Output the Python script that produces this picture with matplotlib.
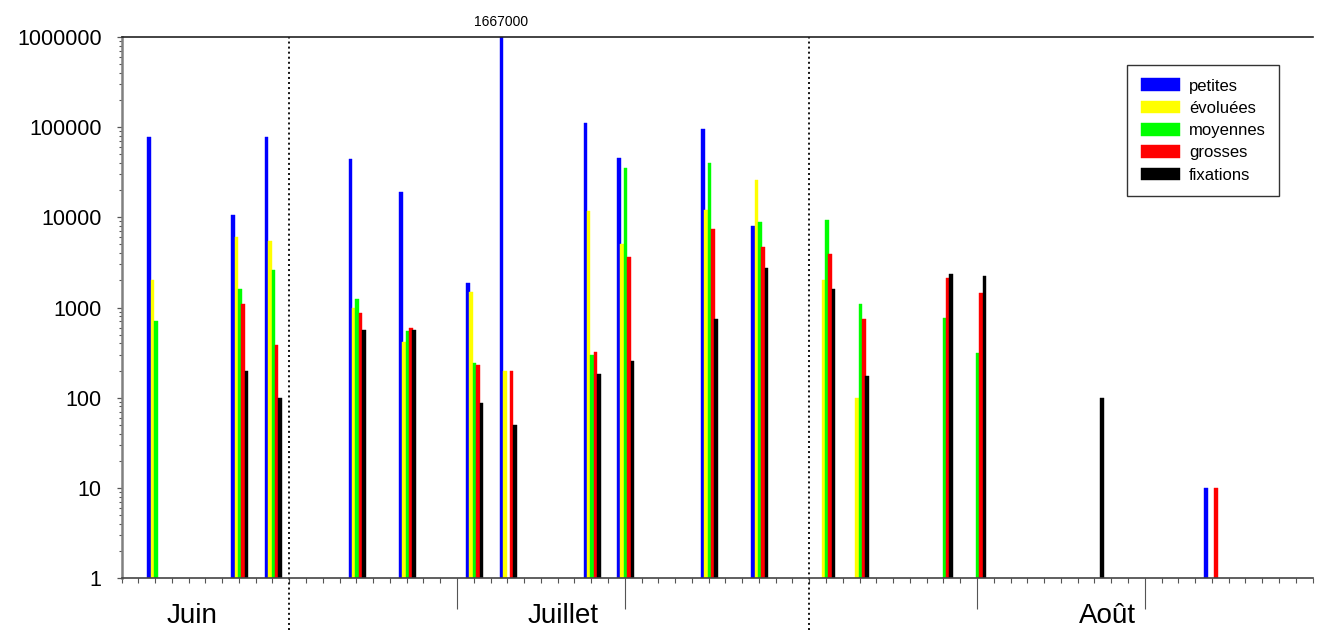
import numpy as np
import matplotlib
matplotlib.use("Agg")
import matplotlib.pyplot as plt
from matplotlib.ticker import FixedLocator, LogLocator, FuncFormatter, NullFormatter
from matplotlib.transforms import blended_transform_factory

plt.rcParams['font.family'] = ['Liberation Sans', 'DejaVu Sans']

# Sampling days, counted from 21 June (index 0)
days = np.array([2, 7, 9, 14, 17, 21, 23, 28, 30, 35, 38, 42, 44, 49, 51, 58, 65])

# Counts per category (0 = nothing recorded)
petites   = [78000, 10500, 77000, 44000, 19000, 1850, 1667000, 110000, 45000, 95000, 8000, 0, 0, 0, 0, 0, 10]
evoluees  = [2000, 6000, 5500, 1000, 410, 1500, 200, 11700, 5000, 12000, 26000, 2000, 100, 0, 0, 0, 0]
moyennes  = [700, 1600, 2600, 1250, 550, 245, 0, 300, 35000, 40000, 8800, 9300, 1080, 770, 310, 0, 0]
grosses   = [0, 1100, 380, 870, 590, 230, 200, 320, 3600, 7400, 4700, 3900, 740, 2150, 1450, 0, 10]
fixations = [0, 200, 100, 560, 560, 87, 50, 185, 255, 750, 2750, 1600, 175, 2350, 2250, 100, 0]

series_labels = ["petites", "évoluées", "moyennes", "grosses", "fixations"]
series_colors = ["#0000ff", "#ffff00", "#00ff00", "#ff0000", "#000000"]

month_names = ["Juin", "Juillet", "Août"]
month_label_pos = [4.2, 26.3, 58.8]
month_bounds = [10, 41]
major_days = [20, 30, 51, 61]
n_days = 71

fig = plt.figure(figsize=(13.21, 6.30), dpi=100)
W, H = 1321, 630
left_px, right_px, top_px, bottom_px = 121.5, 1312.5, 37, 578
ax = fig.add_axes([left_px / W, 1 - bottom_px / H,
                   (right_px - left_px) / W, (bottom_px - top_px) / H])

ax.set_yscale('log')
ax.set_xlim(0, n_days)
ax.set_ylim(1, 1e6)

bar_w = 0.21
for i, (vals, lab, col) in enumerate(zip([petites, evoluees, moyennes, grosses, fixations],
                                         series_labels, series_colors)):
    vals = np.asarray(vals, dtype=float)
    m = vals > 0
    x = days[m] + (i - 2) * 0.2 + 0.05
    ax.bar(x, vals[m] - 1, bottom=1, width=bar_w, color=col,
           edgecolor=col, linewidth=0.3, label=lab)

# value above the clipped bar
imax = int(np.argmax(petites))
ax.annotate(str(petites[imax]), xy=(days[imax] - 0.4 + 0.05, 1e6),
            xytext=(0, 15), textcoords='offset pixels', ha='center', va='center',
            fontsize=10, annotation_clip=False)

# month separators
for b in month_bounds:
    ax.axvline(b, ymin=-(H - bottom_px) / (bottom_px - top_px), ymax=1,
               color='black', linewidth=1.3, linestyle=(0, (1.1, 1.7)), clip_on=False)

trans = blended_transform_factory(ax.transData, ax.transAxes)
for name, pos in zip(month_names, month_label_pos):
    ax.text(pos, -(616 - bottom_px) / (bottom_px - top_px), name, transform=trans,
            ha='center', va='center', fontsize=20)

# axes styling
ax.spines['right'].set_visible(False)
ax.spines['top'].set_color('#222222')
ax.spines['top'].set_linewidth(1.2)
ax.spines['left'].set_color('#808080')
ax.spines['left'].set_linewidth(1.8)
ax.spines['bottom'].set_color('#444444')
ax.spines['bottom'].set_linewidth(1.2)

ax.xaxis.set_major_locator(FixedLocator(major_days))
ax.xaxis.set_minor_locator(FixedLocator(np.arange(0, n_days + 1)))
ax.xaxis.set_major_formatter(NullFormatter())
ax.tick_params(axis='x', which='major', direction='out', length=22.3, width=0.8, color='#555555')
ax.tick_params(axis='x', which='minor', direction='out', length=3.8, width=0.8, color='#555555')

ax.yaxis.set_major_locator(LogLocator(base=10, numticks=10))
ax.yaxis.set_minor_locator(LogLocator(base=10, subs=np.arange(2, 10), numticks=20))
ax.yaxis.set_major_formatter(FuncFormatter(lambda v, p: f"{int(round(v))}"))
ax.yaxis.set_minor_formatter(NullFormatter())
ax.tick_params(axis='y', which='major', direction='out', length=3.8, width=0.9,
               color='#555555', labelsize=15.5, pad=10.5)
ax.tick_params(axis='y', which='minor', direction='out', length=2.4, width=0.8, color='#555555')

leg = ax.legend(loc='upper right', bbox_to_anchor=((1279 - left_px) / (right_px - left_px),
                                                  (bottom_px - 65) / (bottom_px - top_px)),
                borderaxespad=0, fontsize=12, handlelength=2.34, handleheight=0.8,
                handletextpad=0.55, labelspacing=0.43, borderpad=0.8,
                fancybox=False, framealpha=1, edgecolor='#333333')
leg.get_frame().set_linewidth(1.0)

fig.savefig("out.png", dpi=100)
